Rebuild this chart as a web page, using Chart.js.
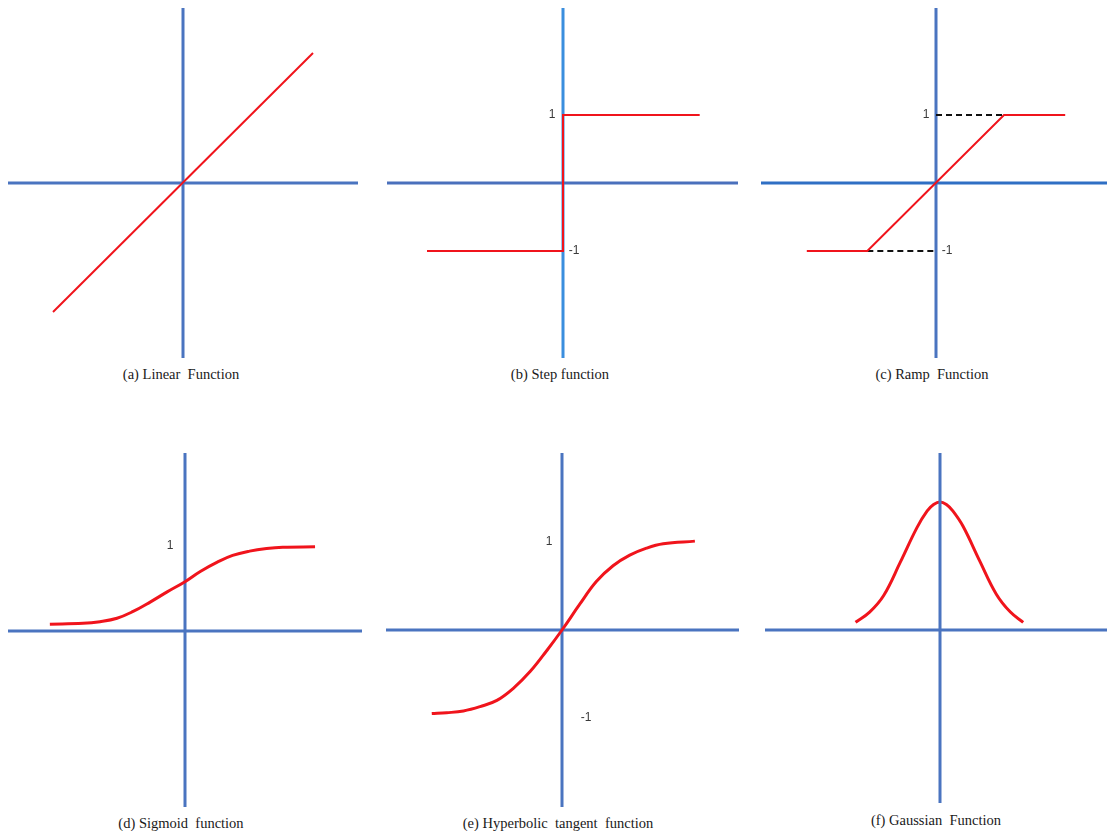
<!DOCTYPE html>
<html>
<head>
<meta charset="utf-8">
<script src="https://cdn.jsdelivr.net/npm/chart.js@4.4.1/dist/chart.umd.min.js"></script>
<style>
  html, body { margin: 0; padding: 0; background: #fff; }
  body { width: 1107px; height: 831px; position: relative; overflow: hidden; }
  canvas { position: absolute; }
  .caption {
    position: absolute;
    font-family: "Liberation Serif", "DejaVu Serif", "Times New Roman", serif;
    font-size: 14.5px;
    line-height: 16px;
    color: #1a1a1a;
    white-space: pre;
    transform: translateX(-50%);
  }
</style>
</head>
<body>
<canvas id="linear"></canvas>
<canvas id="step"></canvas>
<canvas id="ramp"></canvas>
<canvas id="sigmoid"></canvas>
<canvas id="tanh"></canvas>
<canvas id="gauss"></canvas>

<div class="caption" style="left:181px; top:366px;">(a) Linear  Function</div>
<div class="caption" style="left:560px; top:366px;">(b) Step function</div>
<div class="caption" style="left:932px; top:366px;">(c) Ramp  Function</div>
<div class="caption" style="left:181px; top:815px;">(d) Sigmoid  function</div>
<div class="caption" style="left:558px; top:815px;">(e) Hyperbolic  tangent  function</div>
<div class="caption" style="left:936px; top:812px;">(f) Gaussian  Function</div>

<script>
// curve values, y measured in units of the "1" level of each panel
const linearX = [-1.3, 1.3];
const linearY = [-1.29, 1.3];

const stepX = [-2.0, 0, 0, 2.01];
const stepY = [-1, -1, 1, 1];

const rampX = [-1.9, -1.01, 1.0, 1.9];
const rampY = [-1, -1, 1, 1];
const rampUpperGuideX = [0, 1.0];
const rampUpperGuideY = [1, 1];
const rampLowerGuideX = [-1.01, 0];
const rampLowerGuideY = [-1, -1];

const sigmoidX = [-1.59, -1.2, -1.0, -0.8, -0.61, -0.41, -0.21, 0, 0.18, 0.38, 0.56, 0.76, 0.96, 1.15, 1.53];
const sigmoidY = [0.08, 0.09, 0.11, 0.15, 0.23, 0.34, 0.46, 0.58, 0.70, 0.81, 0.89, 0.94, 0.97, 0.985, 0.99];

const tanhX = [-1.48, -1.31, -1.12, -0.93, -0.74, -0.55, -0.36, -0.17, 0, 0.2, 0.39, 0.58, 0.77, 0.96, 1.15, 1.51];
const tanhY = [-0.95, -0.94, -0.92, -0.87, -0.80, -0.66, -0.47, -0.23, 0, 0.29, 0.55, 0.73, 0.85, 0.93, 0.98, 1.01];

const gaussX = [-0.66, -0.55, -0.44, -0.31, -0.18, -0.10, -0.05, 0, 0.05, 0.10, 0.18, 0.31, 0.44, 0.55, 0.65];
const gaussY = [0.06, 0.14, 0.27, 0.53, 0.80, 0.93, 0.98, 1.0, 0.98, 0.93, 0.81, 0.54, 0.28, 0.14, 0.06];

// tick labels written next to the vertical axis
const levelValues = [1, -1];
const levelLabels = ['1', '-1'];

const AXIS_BLUE = '#4a74c0';
const RED = '#f0141c';

function pts(xs, ys) {
  return xs.map((x, i) => ({ x: x, y: ys[i] }));
}

// draws the "1" / "-1" texts at the y scale position of their value
const levelTextPlugin = {
  id: 'levelText',
  afterDatasetsDraw(chart, args, opts) {
    if (!opts.items || !opts.items.length) return;
    const ctx = chart.ctx;
    const x0 = chart.scales.x.getPixelForValue(0);
    ctx.save();
    ctx.font = '12px "Liberation Sans", Arial, sans-serif';
    ctx.fillStyle = '#3a3a3a';
    ctx.textAlign = 'center';
    ctx.textBaseline = 'middle';
    opts.items.forEach(it => {
      const i = levelValues.indexOf(it.value);
      ctx.fillText(levelLabels[i], x0 + it.dx, chart.scales.y.getPixelForValue(it.value) + (it.dy || 0));
    });
    ctx.restore();
  }
};

function makePanel(p, curves, labels, axisColors) {
  const canvas = document.getElementById(p.id);
  canvas.width = p.width;
  canvas.height = p.height;
  canvas.style.left = p.left + 'px';
  canvas.style.top = p.top + 'px';

  const xmin = -p.ox / p.unit, xmax = (p.width - p.ox) / p.unit;
  const ymax = p.oy / p.unit, ymin = -(p.height - p.oy) / p.unit;
  const colors = axisColors || [AXIS_BLUE, AXIS_BLUE];

  const datasets = curves.map(c => Object.assign({
    showLine: true,
    pointRadius: 0,
    fill: false,
    order: 1,
    tension: c.smooth ? 0.4 : 0
  }, c));

  // the two blue axes crossing at the origin
  datasets.push({
    data: [{ x: xmin, y: 0 }, { x: xmax, y: 0 }],
    borderColor: colors[0], borderWidth: 3, showLine: true, pointRadius: 0, order: 2
  });
  datasets.push({
    data: [{ x: 0, y: ymin }, { x: 0, y: ymax }],
    borderColor: colors[1], borderWidth: 3, showLine: true, pointRadius: 0, order: 2
  });

  return new Chart(canvas, {
    type: 'scatter',
    data: { datasets: datasets },
    options: {
      responsive: false,
      animation: false,
      devicePixelRatio: 1,
      layout: { padding: 0 },
      scales: {
        x: { type: 'linear', display: false, min: xmin, max: xmax },
        y: { type: 'linear', display: false, min: ymin, max: ymax }
      },
      plugins: {
        legend: { display: false },
        tooltip: { enabled: false },
        levelText: { items: labels || [] }
      }
    },
    plugins: [levelTextPlugin]
  });
}

makePanel(
  { id: 'linear', left: 8, top: 8, width: 350, height: 350, ox: 175, oy: 175, unit: 100 },
  [{ data: pts(linearX, linearY), borderColor: RED, borderWidth: 2 }]
);

makePanel(
  { id: 'step', left: 387, top: 8, width: 351, height: 350, ox: 176, oy: 175, unit: 68 },
  [{ data: pts(stepX, stepY), borderColor: RED, borderWidth: 2, order: 0 }],
  [{ value: 1, dx: -11 }, { value: -1, dx: 11 }],
  ['#4a70bc', '#3a8ede']
);

makePanel(
  { id: 'ramp', left: 761, top: 8, width: 350, height: 350, ox: 175, oy: 175, unit: 68 },
  [
    { data: pts(rampX, rampY), borderColor: RED, borderWidth: 2 },
    { data: pts(rampUpperGuideX, rampUpperGuideY), borderColor: '#111', borderWidth: 2, borderDash: [6, 4] },
    { data: pts(rampLowerGuideX, rampLowerGuideY), borderColor: '#111', borderWidth: 2, borderDash: [6, 4] }
  ],
  [{ value: 1, dx: -10 }, { value: -1, dx: 11 }],
  ['#2f6fc4', '#4a74c0']
);

makePanel(
  { id: 'sigmoid', left: 8, top: 453, width: 354, height: 354, ox: 177, oy: 178, unit: 85 },
  [{ data: pts(sigmoidX, sigmoidY), borderColor: RED, borderWidth: 3, smooth: true }],
  [{ value: 1, dx: -15 }]
);

makePanel(
  { id: 'tanh', left: 386, top: 453, width: 353, height: 354, ox: 176, oy: 177, unit: 88 },
  [{ data: pts(tanhX, tanhY), borderColor: RED, borderWidth: 3, smooth: true }],
  [{ value: 1, dx: -13 }, { value: -1, dx: 24 }]
);

makePanel(
  { id: 'gauss', left: 765, top: 453, width: 350, height: 350, ox: 175, oy: 177, unit: 128 },
  [{ data: pts(gaussX, gaussY), borderColor: RED, borderWidth: 3, smooth: true, order: 3 }]
);
</script>
</body>
</html>
